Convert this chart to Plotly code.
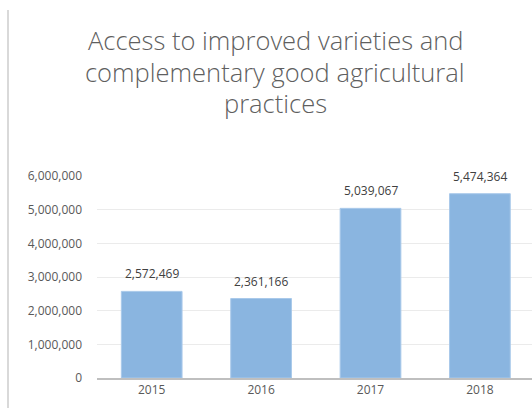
import plotly.graph_objects as go

years = ["2015", "2016", "2017", "2018"]
values = [2572469, 2361166, 5039067, 5474364]
y_ticks = [0, 1000000, 2000000, 3000000, 4000000, 5000000, 6000000]
y_tick_labels = ["0", "1,000,000", "2,000,000", "3,000,000", "4,000,000", "5,000,000", "6,000,000"]
title_lines = ["Access to improved varieties and", "complementary good agricultural", "practices"]

W, H = 532, 408
L, R, T, B = 97, 0, 176, 30
pw, ph = W - L - R, H - T - B

FONT = "Open Sans, Lato, sans-serif"

fig = go.Figure()
fig.add_trace(go.Bar(
    x=list(range(len(years))), y=values,
    marker=dict(color="#8AB5E0", line=dict(color="#A9C9EA", width=1)),
    width=0.555, hoverinfo="skip",
))

# data labels
for i, v in enumerate(values):
    fig.add_annotation(x=i, y=v, text=f"{v:,}", showarrow=False, yanchor="bottom",
                       yshift=7, font=dict(family=FONT, size=12, color="#404040"))

# title lines
title_y = [40, 72, 103]
for line, yp in zip(title_lines, title_y):
    fig.add_annotation(xref="paper", yref="paper", x=(275 - L) / pw, y=(H - B - yp) / ph,
                       text=line, showarrow=False, xanchor="center", yanchor="middle",
                       font=dict(family=FONT, size=25.5, color="#5f5f5f", weight=300))

# left border of chart frame
fig.add_shape(type="line", xref="paper", yref="paper",
              x0=(8 - L) / pw, x1=(8 - L) / pw, y0=(H - B - 10) / ph, y1=(H - B - 410) / ph,
              line=dict(color="#D9D9D9", width=2))

fig.update_layout(
    width=W, height=H,
    margin=dict(l=L, r=R, t=T, b=B, pad=0),
    plot_bgcolor="white", paper_bgcolor="white",
    showlegend=False,
    xaxis=dict(
        range=[-0.5, -0.5 + pw / 109.4],
        tickmode="array", tickvals=list(range(len(years))), ticktext=years,
        showgrid=False, showline=True, linecolor="#BFBFBF", linewidth=2,
        ticks="", tickfont=dict(family=FONT, size=12, color="#595959"),
        fixedrange=True,
    ),
    yaxis=dict(
        range=[0, 6000000],
        tickmode="array", tickvals=y_ticks, ticktext=y_tick_labels,
        showgrid=True, gridcolor="#EBEBEB", gridwidth=1,
        zeroline=False, showline=False, ticks="",
        ticklabelstandoff=14,
        tickfont=dict(family=FONT, size=12, color="#595959"),
        fixedrange=True,
    ),
)

fig.write_html("out.html", config={"displayModeBar": False},
               post_script="document.body.style.margin='0';document.body.style.overflow='hidden';")
